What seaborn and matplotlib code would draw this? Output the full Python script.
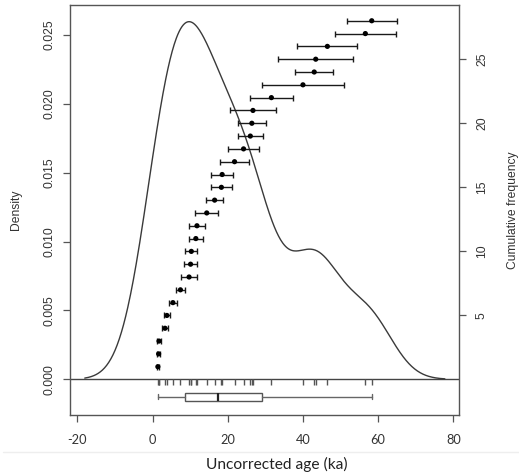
import numpy as np
import matplotlib
matplotlib.use("Agg")
import matplotlib.pyplot as plt
from matplotlib.lines import Line2D
import seaborn as sns

# Uncorrected ages (ka), sorted, with their 1-sigma uncertainties
ages = [1.4, 1.6, 1.7, 3.3, 3.8, 5.4, 7.4, 9.7, 10.1, 10.3, 11.5, 11.8, 14.4, 16.5,
        18.3, 18.5, 21.8, 24.2, 26.0, 26.4, 26.7, 31.6, 40.0, 43.0, 43.4, 46.5, 56.6, 58.3]
errors = [0.3, 0.3, 0.4, 0.7, 0.8, 1.0, 1.2, 2.2, 1.8, 1.6, 1.8, 2.2, 3.0, 2.3,
          2.75, 3.0, 3.9, 4.2, 3.3, 3.8, 6.2, 5.7, 11.0, 5.0, 10.0, 8.0, 8.1, 6.6]
cum_freq = [1, 2, 3, 4, 5, 6, 7, 8, 9, 10, 11, 12, 13, 14,
            15, 16, 17, 18, 19, 20, 21, 22, 23, 24, 25, 26, 27, 28]

x_ticks = [-20, 0, 20, 40, 60, 80]
density_ticks = [0.000, 0.005, 0.010, 0.015, 0.020, 0.025]
freq_ticks = [5, 10, 15, 20, 25]

sns.set_style("ticks")
plt.rcParams["font.family"] = ["Liberation Sans", "DejaVu Sans"]

TXT = "#333333"
EDGE = "#555555"

W, H = 519, 475
fig = plt.figure(figsize=(W / 100, H / 100), dpi=100)
L, R, T, B = 70.3, 459.3, 5.0, 415.0
ax = fig.add_axes([L / W, 1 - B / H, (R - L) / W, (B - T) / H])

# Gaussian KDE with the classic nrd0 rule-of-thumb bandwidth
a = np.asarray(ages)
sd = a.std(ddof=1)
iqr = np.subtract(*np.percentile(a, [75, 25]))
bw = 0.9 * min(sd, iqr / 1.34) * len(a) ** -0.2
sns.kdeplot(x=ages, bw_method=bw / sd, cut=3, gridsize=512,
            color="#3a3a3a", lw=1.0, ax=ax)

ax.axhline(0, color="#444444", lw=1.0, zorder=1)

# rug under the zero line
ax.vlines(ages, -0.00040, 0, color="#555555", lw=1.0)

# Tukey-hinge boxplot in the strip below zero
s = np.sort(a)
n = len(s)
half = (n + 1) // 2
lower, upper = s[:half], s[n - half:]
stats = [dict(med=np.median(s), q1=np.median(lower), q3=np.median(upper),
              whislo=s.min(), whishi=s.max(), fliers=[])]
box_pos = -0.00128
bxp_kw = dict(positions=[box_pos], widths=0.00063, manage_ticks=False,
              showfliers=False, patch_artist=True, capwidths=[0.00036],
              boxprops=dict(facecolor="white", edgecolor=EDGE, lw=1.0),
              whiskerprops=dict(color="#666666", lw=1.0),
              capprops=dict(color="#666666", lw=1.0),
              medianprops=dict(color="#222222", lw=1.6))
try:
    ax.bxp(stats, orientation="horizontal", **bxp_kw)
except TypeError:
    ax.bxp(stats, vert=False, **bxp_kw)

ax.set_xlim(-21.9, 81.6)
ax.set_ylim(-0.00259, 0.02718)
ax.set_xticks(x_ticks)
ax.set_xticklabels([str(v) for v in x_ticks], family=["Lato", "DejaVu Sans"],
                   fontsize=9.2, color=TXT)
ax.set_yticks(density_ticks)
ax.set_yticklabels([f"{v:.3f}" for v in density_ticks], rotation=90,
                   va="center", ha="right", fontsize=8.7, color=TXT)
ax.tick_params(axis="both", direction="out", length=5, width=0.9, color=EDGE, pad=6)
ax.tick_params(axis="x", pad=9)
ax.set_xlabel("")
ax.set_ylabel("Density", fontsize=8.7, color=TXT)
ax.yaxis.set_label_coords(-0.124, 0.5)
for sp in ax.spines.values():
    sp.set_color(EDGE)
    sp.set_linewidth(1.0)

# cumulative frequency with x error bars on the secondary axis
ax2 = ax.twinx()
ax2.errorbar(ages, cum_freq, xerr=errors, fmt="none", ecolor="#1a1a1a",
             elinewidth=1.0, capsize=1.9, capthick=1.0)
sns.scatterplot(x=ages, y=cum_freq, ax=ax2, color="black", s=14,
                edgecolor="none", zorder=3)
ax2.set_ylim(-2.77, 29.23)
ax2.set_yticks(freq_ticks)
ax2.set_yticklabels([str(v) for v in freq_ticks], rotation=90,
                    va="center", ha="left", fontsize=8.7, color=TXT)
ax2.tick_params(axis="y", direction="out", length=5, width=0.9, color=EDGE, pad=7)
ax2.set_ylabel("Cumulative frequency", fontsize=8.7, color=TXT, rotation=90)
ax2.yaxis.set_label_coords(1.1224, 0.5)
for sp in ax2.spines.values():
    sp.set_visible(False)

fig.text(276.5 / W, 1 - 464 / H, "Uncorrected age (ka)", ha="center", va="center",
         fontsize=11.2, color="#222222", family=["Lato", "DejaVu Sans"])
fig.add_artist(Line2D([0.005, 1.0], [1 - 451.7 / H] * 2, color="#eeeeee", lw=1.0))

fig.savefig("out.png", dpi=100)
